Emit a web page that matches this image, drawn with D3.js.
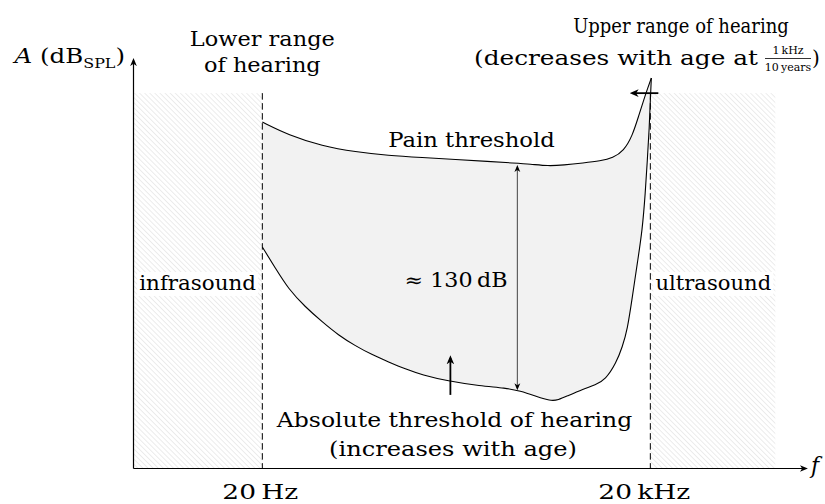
<!DOCTYPE html>
<html><head><meta charset="utf-8">
<script src="https://cdn.jsdelivr.net/npm/d3@7"></script>
<style>
body{margin:0;background:#fff}
svg{display:block}
text{font-family:"DejaVu Serif",serif;fill:#000}
</style>
</head><body>
<svg id="c" width="825" height="504"></svg>
<script>
// ---- data (frequency in Hz, level in dB SPL) ----
const painFreq = [20, 31.8, 58.2, 105, 188, 345, 627, 1118, 1746, 2361, 3254, 4250, 6070, 8212, 10280, 12450, 14520, 16250, 17900, 19100, 20360];
const painDb   = [163.5, 155.9, 149.4, 145.9, 143.8, 142.6, 141.5, 140.3, 139.4, 138.8, 137.6, 138.2, 139.4, 140.6, 142.4, 146.5, 155.3, 167.1, 177.1, 183.5, 189.4];
const thrFreq  = [20, 25.2, 31.8, 43, 58.2, 77.4, 105, 142, 189, 255, 345, 538, 970, 1513, 1976, 2582, 3372, 3888, 4564, 6070, 7512, 8977, 10900, 12150, 13280, 14518, 15872, 17348, 18290, 18964, 19648, 20000, 20360];
const thrDb    = [90, 77.6, 65.3, 54.7, 45.9, 38.2, 31.8, 26.5, 22.4, 18.2, 14.7, 11.2, 8.2, 7.1, 5.3, 2.4, -0.6, 0, 2.4, 6.5, 8.8, 11.8, 21.8, 31.2, 41.2, 60.6, 80.6, 100, 121.8, 141.2, 160.6, 176.5, 189.4];
const tickValues = [20, 20000];
const tickLabels = ["20\u2009Hz", "20\u2009kHz"];
const regionNames = ["infrasound", "ultrasound"];
const regionFrom  = [2, 20000];
const regionTo    = [20, 185000];
const regionTopDb = 180.5;
const axisFreq = [2, 314000];
const axisDb = [-40, 200];
const spanFreq = 1874, spanDb = [7, 137];        // "≈ 130 dB" double arrow
const ageArrowFreq = 569, ageArrowDb = [3, 24.7]; // threshold rises with age
const upperArrowFreq = [23070, 14518];           // upper limit decreases with age

// ---- scales ----
const x = d3.scaleLog().domain(axisFreq).range([133, 805]);
const y = d3.scaleLinear().domain(axisDb).range([468, 60]);

const svg = d3.select("#c");
const defs = svg.append("defs");

const pat = defs.append("pattern").attr("id","hatch").attr("patternUnits","userSpaceOnUse")
  .attr("width",3.6).attr("height",3.6).attr("patternTransform","rotate(-45)");
pat.append("line").attr("x1",0).attr("y1",-1).attr("x2",0).attr("y2",5)
  .attr("stroke","#d9d9d9").attr("stroke-width",1);

function marker(id, w, h){
  defs.append("marker").attr("id",id).attr("viewBox","0 0 10 10")
    .attr("refX",7).attr("refY",5).attr("markerUnits","userSpaceOnUse")
    .attr("markerWidth",w).attr("markerHeight",h).attr("orient","auto-start-reverse")
    .append("path").attr("d","M0,0.8 L10,5 L0,9.2 L2.8,5 Z").attr("fill","#000");
}
marker("ax", 8, 8);
marker("ar", 9, 9);
marker("sm", 7, 7);

// ---- hatched regions ----
svg.append("g").selectAll("rect").data(regionNames).join("rect")
  .attr("x",(d,i)=>x(regionFrom[i])).attr("width",(d,i)=>x(regionTo[i])-x(regionFrom[i]))
  .attr("y",y(regionTopDb)).attr("height",y(axisDb[0])-y(regionTopDb))
  .attr("fill","url(#hatch)");

// ---- hearing area fill ----
const pain = painFreq.map((f,i)=>({f, db: painDb[i]}));
const thr = thrFreq.map((f,i)=>({f, db: thrDb[i]}));
const curve = d3.curveBasis;
const clipArea = d3.area().x(d=>x(d.f)).y0(y(260)).y1(d=>y(d.db)).curve(curve);
defs.append("clipPath").attr("id","aboveThr").append("path").attr("d", clipArea(thr));
const underPain = d3.area().x(d=>x(d.f)).y0(y(axisDb[0])).y1(d=>y(d.db)).curve(curve);
svg.append("path").attr("d", underPain(pain)).attr("fill","#f2f2f2").attr("clip-path","url(#aboveThr)");

const line = d3.line().x(d=>x(d.f)).y(d=>y(d.db)).curve(curve);
svg.append("path").attr("d", line(pain)).attr("fill","none").attr("stroke","#000").attr("stroke-width",1.1);
svg.append("path").attr("d", line(thr)).attr("fill","none").attr("stroke","#000").attr("stroke-width",1.1);

// ---- dashed hearing limits ----
svg.append("g").selectAll("line").data(tickValues).join("line")
  .attr("x1",d=>x(d)).attr("x2",d=>x(d)).attr("y1",y(regionTopDb)).attr("y2",y(axisDb[0]))
  .attr("stroke","#000").attr("stroke-width",1).attr("stroke-dasharray","6.5,3.5");

// ---- annotation arrows ----
svg.append("line").attr("x1",x(spanFreq)).attr("x2",x(spanFreq)).attr("y1",y(spanDb[0])).attr("y2",y(spanDb[1]))
  .attr("stroke","#444").attr("stroke-width",1).attr("marker-start","url(#sm)").attr("marker-end","url(#sm)");
svg.append("line").attr("x1",x(ageArrowFreq)).attr("x2",x(ageArrowFreq)).attr("y1",y(ageArrowDb[0])).attr("y2",y(ageArrowDb[1]))
  .attr("stroke","#000").attr("stroke-width",1.8).attr("marker-end","url(#ar)");
svg.append("line").attr("x1",x(upperArrowFreq[0])).attr("x2",x(upperArrowFreq[1])).attr("y1",y(regionTopDb)).attr("y2",y(regionTopDb))
  .attr("stroke","#000").attr("stroke-width",1.8).attr("marker-end","url(#ar)");

// ---- text helper: scale horizontally to a target width around anchor ----
const FS = 20;
function fit(sel, ax, target){
  const w = sel.node().getBBox().width;
  const s = target / w;
  sel.attr("transform", `translate(${ax},0) scale(${s},1) translate(${-ax},0)`);
  return sel;
}
function label(t, cx, by, w, anchor="middle", size=FS){
  const s = svg.append("text").attr("x",cx).attr("y",by).attr("text-anchor",anchor).attr("font-size",size).text(t);
  if (w) fit(s, cx, w);
  return s;
}

// ---- axes ----
const xAxis = svg.append("g").attr("transform",`translate(0,${y(axisDb[0])})`)
  .call(d3.axisBottom(x).tickValues(tickValues).tickFormat((d,i)=>tickLabels[i]).tickSize(0).tickSizeOuter(0));
xAxis.select(".domain").attr("stroke-width",1.2).attr("marker-end","url(#ax)");
xAxis.selectAll(".tick text").remove();
const tickW = [76, 92], tickShift = [-2, -6];
tickValues.forEach((v,i)=>label(tickLabels[i], x(v)+tickShift[i], 499, tickW[i]));
const yAxis = svg.append("g").attr("transform",`translate(${x(axisFreq[0])},0)`)
  .call(d3.axisLeft(y).tickValues([]).tickSizeOuter(0));
yAxis.select(".domain").attr("stroke-width",1.2).attr("marker-end","url(#ax)");

// y-axis title
const yt = svg.append("text").attr("x",125).attr("y",63).attr("text-anchor","end").attr("font-size",FS);
yt.append("tspan").attr("font-style","italic").text("A");
yt.append("tspan").text(" (dB");
yt.append("tspan").attr("font-size",13).attr("dy",5).text("SPL");
yt.append("tspan").attr("dy",-5).text(")");
fit(yt, 125, 113);
// f axis label
label("f", 811, 473, null, "start", 22).attr("font-style","italic");

label("Lower range", x(20), 46, 145);
label("of hearing", x(20), 72, 117);
label("Upper range of hearing", 681, 33, 216);

// second line with fraction
const g2 = svg.append("g");
const t2 = g2.append("text").attr("x",474).attr("y",65).attr("font-size",FS).text("(decreases with age at");
fit(t2, 474, 284);
const fx0 = 765, fx1 = 811;
g2.append("text").attr("x",(fx0+fx1)/2).attr("y",54).attr("font-size",11).attr("text-anchor","middle").text("1\u2009kHz");
g2.append("text").attr("x",(fx0+fx1)/2).attr("y",71).attr("font-size",11).attr("text-anchor","middle").text("10\u2009years");
g2.append("line").attr("x1",fx0).attr("x2",fx1).attr("y1",58.5).attr("y2",58.5).attr("stroke","#000").attr("stroke-width",0.8);
g2.append("text").attr("x",812).attr("y",65).attr("font-size",FS).text(")");

label("Pain threshold", 471.5, 147, 167);
label("\u2248 130\u2009dB", 456, 287, 103);

const regionW = [117, 116];
regionNames.forEach((n,i)=>{
  const cx = (x(regionFrom[i]) + x(regionTo[i]))/2 + (i===0 ? 0 : 0.5);
  const t = label(n, cx, 290, regionW[i]);
  svg.insert("rect", () => t.node()).attr("x",cx-regionW[i]/2-2).attr("y",272).attr("width",regionW[i]+4).attr("height",24).attr("fill","#fff");
});

label("Absolute threshold of hearing", 454.5, 427, 357);
label("(increases with age)", 453, 456, 248);
</script>
</body></html>
